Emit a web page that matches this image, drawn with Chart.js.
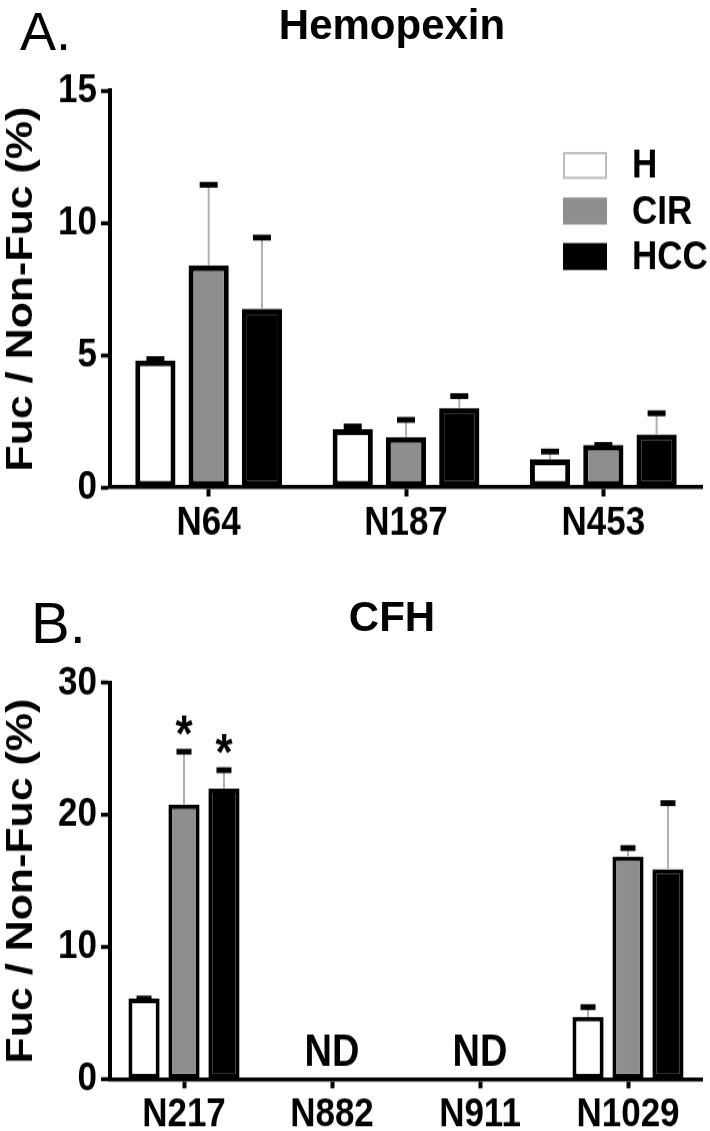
<!DOCTYPE html>
<html>
<head>
<meta charset="utf-8">
<script src="https://cdn.jsdelivr.net/npm/chart.js@4.4.1/dist/chart.umd.min.js"></script>
<style>
  body { margin:0; background:#fff; width:710px; height:1131px; position:relative; overflow:hidden;
         font-family:"Liberation Sans", Arial, Helvetica, sans-serif; color:#000; }
  /* the source figure is stretched vertically, so each panel is too */
  .panel { position:absolute; left:0; width:710px; transform:scaleY(1.16); transform-origin:0 0; }
  .panel canvas { display:block; }
  #panelA { top:0; height:470px; }
  #panelB { top:545px; height:505px; }
  .letter { position:absolute; line-height:1; }
  .title { position:absolute; font-weight:bold; font-size:42px; line-height:1; width:400px; text-align:center; left:192px; }
</style>
</head>
<body>
<div class="panel" id="panelA"><canvas id="chartA" width="710" height="470"></canvas></div>
<div class="panel" id="panelB"><canvas id="chartB" width="710" height="505"></canvas></div>
<div class="letter" style="left:20px; top:4px; font-size:54px">A.</div>
<div class="title" style="top:4px">Hemopexin</div>
<div class="letter" style="left:31px; top:594px; font-size:58px">B.</div>
<div class="title" style="top:596px">CFH</div>

<script>
const FONT = '"Liberation Sans", Arial, Helvetica, sans-serif';
const SY = 1.16; // vertical stretch of the panels

// groups
const groups = ["H", "CIR", "HCC"];
const groupFill = ["#ffffff", "#8e8e8e", "#000000"];

// A. Hemopexin
const hemoSites = ["N64", "N187", "N453"];
const hemoH = [4.8, 2.2, 1.05];
const hemoCIR = [8.4, 1.9, 1.6];
const hemoHCC = [6.75, 3.0, 2.0];
// top of the error bar (mean + error)
const hemoHTop = [4.85, 2.3, 1.35];
const hemoCIRTop = [11.45, 2.55, 1.6];
const hemoHCCTop = [9.45, 3.45, 2.8];
const hemoTicks = [0, 5, 10, 15];

// B. CFH
const cfhSites = ["N217", "N882", "N911", "N1029"];
const cfhH = [6.1, null, null, 4.7];
const cfhCIR = [20.8, null, null, 16.85];
const cfhHCC = [22.0, null, null, 15.9];
const cfhHTop = [6.1, null, null, 5.45];
const cfhCIRTop = [24.8, null, null, 17.5];
const cfhHCCTop = [23.4, null, null, 20.9];
const cfhCIRStar = [true, false, false, false];
const cfhHCCStar = [true, false, false, false];
const cfhND = [false, true, true, false];
const cfhTicks = [0, 10, 20, 30];

// error bars: thin grey stem + black cap
const errorBars = {
  id: 'errorBars',
  afterDatasetsDraw(chart, args, opts) {
    const ctx = chart.ctx;
    const y = chart.scales.y;
    chart.data.datasets.forEach((ds, i) => {
      const meta = chart.getDatasetMeta(i);
      meta.data.forEach((bar, j) => {
        if (ds.data[j] == null || ds.errTop[j] == null) return;
        const yTop = y.getPixelForValue(ds.errTop[j]);
        ctx.save();
        if (yTop < bar.y - 2) {
          ctx.strokeStyle = '#b0b0b0';
          ctx.lineWidth = 2;
          ctx.beginPath();
          ctx.moveTo(bar.x, bar.y);
          ctx.lineTo(bar.x, yTop);
          ctx.stroke();
        }
        ctx.fillStyle = '#000';
        ctx.fillRect(bar.x - opts.capWidth / 2, yTop - 2.5, opts.capWidth, 5);
        if (ds.stars && ds.stars[j]) {
          ctx.font = 'bold 44px ' + FONT;
          ctx.textAlign = 'center';
          ctx.textBaseline = 'middle';
          ctx.fillText('*', bar.x, yTop - 12);
        }
        ctx.restore();
      });
    });
    if (opts.nd) {
      const x = chart.scales.x;
      ctx.save();
      ctx.font = 'bold 38px ' + FONT;
      ctx.textAlign = 'center';
      ctx.textBaseline = 'alphabetic';
      opts.nd.forEach((flag, j) => {
        if (flag) ctx.fillText('ND', x.getPixelForValue(j), y.getPixelForValue(0) - 11);
      });
      ctx.restore();
    }
  }
};

// legend inside the plot, upper right
const boxLegend = {
  id: 'boxLegend',
  afterDraw(chart, args, opts) {
    if (!opts.show) return;
    const ctx = chart.ctx;
    const a = chart.chartArea;
    const x0 = a.right - 139, y0 = a.top + 61 / SY;
    const step = 45.5 / SY, bh = 27 / SY;
    ctx.save();
    chart.data.datasets.forEach((ds, i) => {
      const yy = y0 + i * step;
      ctx.fillStyle = ds.backgroundColor;
      ctx.fillRect(x0, yy, 44, bh);
      if (i === 0) {
        ctx.strokeStyle = '#bdbdbd';
        ctx.lineWidth = 2;
        ctx.strokeRect(x0 + 1, yy + 1, 42, bh - 2);
      }
      ctx.fillStyle = '#000';
      ctx.font = 'bold 35px ' + FONT;
      ctx.textBaseline = 'middle';
      ctx.textAlign = 'left';
      ctx.fillText(ds.label, x0 + 69, yy + bh / 2 + 1);
    });
    ctx.restore();
  }
};

function makeChart(id, sites, values, tops, stars, yMax, ticks, opts) {
  const datasets = groups.map((g, i) => ({
    label: g,
    data: values[i],
    errTop: tops[i],
    stars: stars ? stars[i] : null,
    backgroundColor: groupFill[i],
    borderColor: '#000',
    borderWidth: opts.border,
    borderSkipped: false,
    categoryPercentage: 0.81,
    barPercentage: opts.barPct
  }));
  return new Chart(document.getElementById(id), {
    type: 'bar',
    data: { labels: sites, datasets: datasets },
    plugins: [errorBars, boxLegend],
    options: {
      responsive: false,
      animation: false,
      devicePixelRatio: 1,
      layout: { padding: { top: opts.top / SY, right: 8, left: 0, bottom: 0 } },
      plugins: {
        legend: { display: false },
        tooltip: { enabled: false },
        errorBars: { capWidth: opts.cap, nd: opts.nd },
        boxLegend: { show: opts.legend }
      },
      scales: {
        x: {
          grid: { drawOnChartArea: false, offset: false, tickLength: 8, tickWidth: 4, tickColor: '#000' },
          border: { color: '#000', width: 3.6 },
          ticks: { color: '#000', padding: 2, font: { family: FONT, size: 35, weight: 'bold' } },
          afterFit: s => { s.height = opts.xh / SY; }
        },
        y: {
          min: 0,
          max: yMax,
          afterBuildTicks: s => { s.ticks = ticks.map(v => ({ value: v })); },
          grid: { drawOnChartArea: false, tickLength: 9, tickWidth: 3.5, tickColor: '#000' },
          border: { color: '#000', width: 4 },
          ticks: { color: '#000', padding: 4, font: { family: FONT, size: 35, weight: 'bold' } },
          title: { display: true, text: 'Fuc / Non-Fuc (%)', color: '#000', padding: 0,
                   font: { family: FONT, size: 37, weight: 'bold' } },
          afterFit: s => { s.width = 110; }
        }
      }
    }
  });
}

// top / xh are in page pixels (before the panel stretch)
makeChart('chartA', hemoSites, [hemoH, hemoCIR, hemoHCC], [hemoHTop, hemoCIRTop, hemoHCCTop], null,
  15, hemoTicks, { top: 91, xh: 545 - 487, border: 5, barPct: 0.755, cap: 18, legend: true, nd: null });

makeChart('chartB', cfhSites, [cfhH, cfhCIR, cfhHCC], [cfhHTop, cfhCIRTop, cfhHCCTop], [null, cfhCIRStar, cfhHCCStar],
  30, cfhTicks, { top: 138, xh: 505 * SY - 534, border: 4, barPct: 0.78, cap: 15, legend: false, nd: cfhND });
</script>
</body>
</html>
